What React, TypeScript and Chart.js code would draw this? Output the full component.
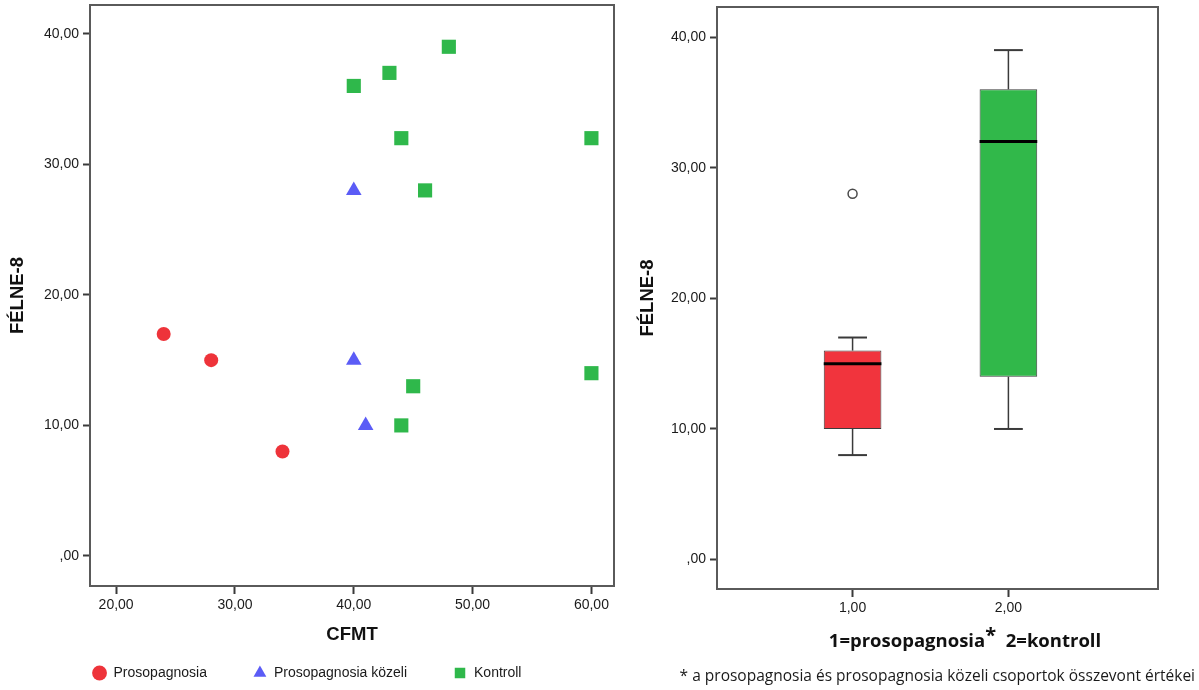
import React, { useEffect, useRef } from 'react';
import { Chart, registerables } from 'chart.js';

Chart.register(...registerables);

// ---- Scatter (left) data ----
const scatterLegend = ['Prosopagnosia', 'Prosopagnosia közeli', 'Kontroll'];
const prosoCFMT = [24, 28, 34];
const prosoFELNE = [17, 15, 8];
const kozeliCFMT = [40, 40, 41];
const kozeliFELNE = [28, 15, 10];
const kontrollCFMT = [40, 43, 48, 44, 60, 46, 45, 60, 44];
const kontrollFELNE = [36, 37, 39, 32, 32, 28, 13, 14, 10];
const cfmtTicks = [20, 30, 40, 50, 60];
const cfmtTickLabels = ['20,00', '30,00', '40,00', '50,00', '60,00'];
const felneTicks = [0, 10, 20, 30, 40];
const felneTickLabels = [',00', '10,00', '20,00', '30,00', '40,00'];
const xTitleLeft = 'CFMT';
const yTitle = 'FÉLNE-8';

// ---- Box plot (right) data ----
const groupCodes = [1, 2];
const groupTickLabels = ['1,00', '2,00'];
const boxMin = [8, 10];
const boxQ1 = [10, 14];
const boxMedian = [15, 32];
const boxQ3 = [16, 36];
const boxMax = [17, 39];
const outlierGroup = [1];
const outlierValue = [28];
const xTitleRightA = '1=prosopagnosia';
const xTitleRightB = '  2=kontroll';
const footnote = '* a prosopagnosia és prosopagnosia közeli csoportok összevont értékei';

const RED = '#EE333A';
const BLUE = '#5B5CF6';
const GREEN = '#2FB84B';
const BOX_RED = '#F1343D';
const BOX_GREEN = '#31B84A';
const FONT = "'Liberation Sans', Arial, sans-serif";

Chart.defaults.font.family = FONT;

const framePlugin = {
  id: 'frame',
  afterDraw(chart: any) {
    const { ctx, chartArea: a } = chart;
    ctx.save();
    ctx.strokeStyle = '#5a5a5a';
    ctx.lineWidth = 2;
    ctx.strokeRect(a.left, a.top, a.right - a.left, a.bottom - a.top);
    ctx.restore();
  },
};

const whiskerPlugin = {
  id: 'whiskers',
  afterDatasetsDraw(chart: any) {
    const meta = chart.getDatasetMeta(0);
    const ys = chart.scales.y;
    const ctx = chart.ctx;
    const line = (x1: number, y1: number, x2: number, y2: number) => {
      ctx.beginPath();
      ctx.moveTo(x1, y1);
      ctx.lineTo(x2, y2);
      ctx.stroke();
    };
    ctx.save();
    meta.data.forEach((bar: any, i: number) => {
      const { x, width } = bar.getProps(['x', 'width'], true);
      const yMin = ys.getPixelForValue(boxMin[i]);
      const yQ1 = ys.getPixelForValue(boxQ1[i]);
      const yMed = ys.getPixelForValue(boxMedian[i]);
      const yQ3 = ys.getPixelForValue(boxQ3[i]);
      const yMax = ys.getPixelForValue(boxMax[i]);
      ctx.strokeStyle = '#3a3a3a';
      ctx.lineWidth = 1.5;
      line(x, yQ3, x, yMax);
      line(x, yQ1, x, yMin);
      ctx.lineWidth = 2;
      line(x - width / 4, yMax, x + width / 4, yMax);
      line(x - width / 4, yMin, x + width / 4, yMin);
      ctx.strokeStyle = '#000';
      ctx.lineWidth = 3;
      line(x - width / 2, yMed, x + width / 2, yMed);
    });
    ctx.restore();
  },
};

const tickFont = { size: 14, family: FONT };
const titleFont = { size: 18.5, weight: 'bold' as const, family: FONT };
const gridOpts = {
  drawOnChartArea: false,
  drawTicks: true,
  tickWidth: 2,
  tickColor: '#3a3a3a',
  offset: false,
};

const fitY = (w: number) => (s: any) => {
  s.width = w;
  s.paddingTop = 0;
  s.paddingBottom = 0;
};
const fitX = (h: number) => (s: any) => {
  s.height = h;
  s.paddingLeft = 0;
  s.paddingRight = 0;
};

function ScatterChart() {
  const ref = useRef<HTMLCanvasElement>(null);
  useEffect(() => {
    const chart = new Chart(ref.current as HTMLCanvasElement, {
      type: 'scatter',
      data: {
        datasets: [
          {
            label: scatterLegend[0],
            data: prosoCFMT.map((x, i) => ({ x, y: prosoFELNE[i] })),
            pointStyle: 'circle',
            pointRadius: 7,
            backgroundColor: RED,
            borderColor: RED,
            borderWidth: 0,
          },
          {
            label: scatterLegend[1],
            data: kozeliCFMT.map((x, i) => ({ x, y: kozeliFELNE[i] })),
            pointStyle: 'triangle',
            pointRadius: 9,
            backgroundColor: BLUE,
            borderColor: BLUE,
            borderWidth: 0,
          },
          {
            label: scatterLegend[2],
            data: kontrollCFMT.map((x, i) => ({ x, y: kontrollFELNE[i] })),
            pointStyle: 'rect',
            pointRadius: 10,
            backgroundColor: GREEN,
            borderColor: GREEN,
            borderWidth: 0,
          },
        ],
      },
      options: {
        responsive: false,
        animation: false,
        events: [],
        layout: { autoPadding: false, padding: { left: 0, right: 6, top: 5, bottom: 0 } },
        plugins: {
          legend: {
            position: 'bottom',
            labels: {
              usePointStyle: true,
              boxHeight: 10.5,
              padding: 46,
              font: { size: 14, family: FONT },
              color: '#1a1a1a',
            },
          },
          tooltip: { enabled: false },
        },
        scales: {
          x: {
            type: 'linear',
            min: 17.8,
            max: 61.9,
            afterBuildTicks: (s: any) => {
              s.ticks = cfmtTicks.map((v) => ({ value: v }));
            },
            afterFit: fitX(34),
            ticks: {
              callback: (_v: any, i: number) => cfmtTickLabels[i],
              autoSkip: false,
              maxRotation: 0,
              padding: 3,
              font: tickFont,
              color: '#1a1a1a',
            },
            grid: { ...gridOpts, tickLength: 8 },
            border: { display: false },
            title: {
              display: true,
              text: xTitleLeft,
              font: titleFont,
              color: '#111',
              padding: { top: 0, bottom: -26 },
            },
          },
          y: {
            type: 'linear',
            min: -2.3,
            max: 42.2,
            afterBuildTicks: (s: any) => {
              s.ticks = felneTicks.map((v) => ({ value: v }));
            },
            afterFit: fitY(90),
            ticks: {
              callback: (_v: any, i: number) => felneTickLabels[i],
              autoSkip: false,
              padding: 4,
              font: tickFont,
              color: '#1a1a1a',
            },
            grid: { ...gridOpts, tickLength: 7 },
            border: { display: false },
            title: {
              display: true,
              text: yTitle,
              font: titleFont,
              color: '#111',
              padding: { top: 7, bottom: 0 },
            },
          },
        },
      } as any,
      plugins: [framePlugin],
    });
    return () => chart.destroy();
  }, []);
  return (
    <canvas
      ref={ref}
      width={620}
      height={690}
      style={{ position: 'absolute', left: 0, top: 0 }}
    />
  );
}

function BoxChart() {
  const ref = useRef<HTMLCanvasElement>(null);
  useEffect(() => {
    const chart = new Chart(ref.current as HTMLCanvasElement, {
      type: 'bar',
      data: {
        datasets: [
          {
            type: 'bar',
            data: groupCodes.map((g, i) => ({ x: g, y: [boxQ1[i], boxQ3[i]] })),
            backgroundColor: [BOX_RED, BOX_GREEN],
            borderColor: '#3c3c3c',
            borderWidth: 1,
            borderSkipped: false,
            barPercentage: 0.37,
            categoryPercentage: 1,
          },
          {
            type: 'scatter',
            data: outlierGroup.map((g, i) => ({ x: g, y: outlierValue[i] })),
            pointStyle: 'circle',
            pointRadius: 4.5,
            backgroundColor: '#ffffff',
            borderColor: '#4a4a4a',
            borderWidth: 1.5,
          },
        ],
      } as any,
      options: {
        responsive: false,
        animation: false,
        events: [],
        layout: { autoPadding: false, padding: { left: 0, right: 41, top: 7, bottom: 71 } },
        plugins: { legend: { display: false }, tooltip: { enabled: false } },
        scales: {
          x: {
            type: 'linear',
            min: 0.13,
            max: 2.96,
            offset: false,
            afterBuildTicks: (s: any) => {
              s.ticks = groupCodes.map((v) => ({ value: v }));
            },
            afterFit: fitX(30),
            ticks: {
              callback: (_v: any, i: number) => groupTickLabels[i],
              autoSkip: false,
              maxRotation: 0,
              padding: 3,
              font: tickFont,
              color: '#1a1a1a',
            },
            grid: { ...gridOpts, tickLength: 8 },
            border: { display: false },
          },
          y: {
            type: 'linear',
            min: -2.25,
            max: 42.3,
            beginAtZero: false,
            afterBuildTicks: (s: any) => {
              s.ticks = felneTicks.map((v) => ({ value: v }));
            },
            afterFit: fitY(87),
            ticks: {
              callback: (_v: any, i: number) => felneTickLabels[i],
              autoSkip: false,
              padding: 4,
              font: tickFont,
              color: '#1a1a1a',
            },
            grid: { ...gridOpts, tickLength: 7 },
            border: { display: false },
            title: {
              display: true,
              text: yTitle,
              font: titleFont,
              color: '#111',
              padding: { top: 7, bottom: 0 },
            },
          },
        },
      } as any,
      plugins: [framePlugin, whiskerPlugin],
    });
    return () => chart.destroy();
  }, []);
  return (
    <canvas
      ref={ref}
      width={569}
      height={690}
      style={{ position: 'absolute', left: 630, top: 0 }}
    />
  );
}

export default function App() {
  return (
    <div
      style={{
        position: 'absolute',
        left: 0,
        top: 0,
        width: 1199,
        height: 690,
        background: '#ffffff',
        overflow: 'hidden',
      }}
    >
      <ScatterChart />
      <BoxChart />
      <div
        style={{
          position: 'absolute',
          left: 765,
          width: 400,
          top: 629,
          textAlign: 'center',
          fontFamily: "'Open Sans', sans-serif",
          fontWeight: 700,
          fontSize: 18.5,
          lineHeight: '22px',
          whiteSpace: 'pre',
          color: '#111',
        }}
      >
        {xTitleRightA}
        <span style={{ fontSize: 20, position: 'relative', top: -5 }}>*</span>
        {xTitleRightB}
      </div>
      <div
        style={{
          position: 'absolute',
          left: 0,
          width: 1195,
          top: 665,
          textAlign: 'right',
          fontFamily: "'Open Sans', sans-serif",
          fontSize: 15.5,
          lineHeight: '20px',
          whiteSpace: 'pre',
          color: '#1a1a1a',
        }}
      >
        {footnote}
      </div>
    </div>
  );
}
